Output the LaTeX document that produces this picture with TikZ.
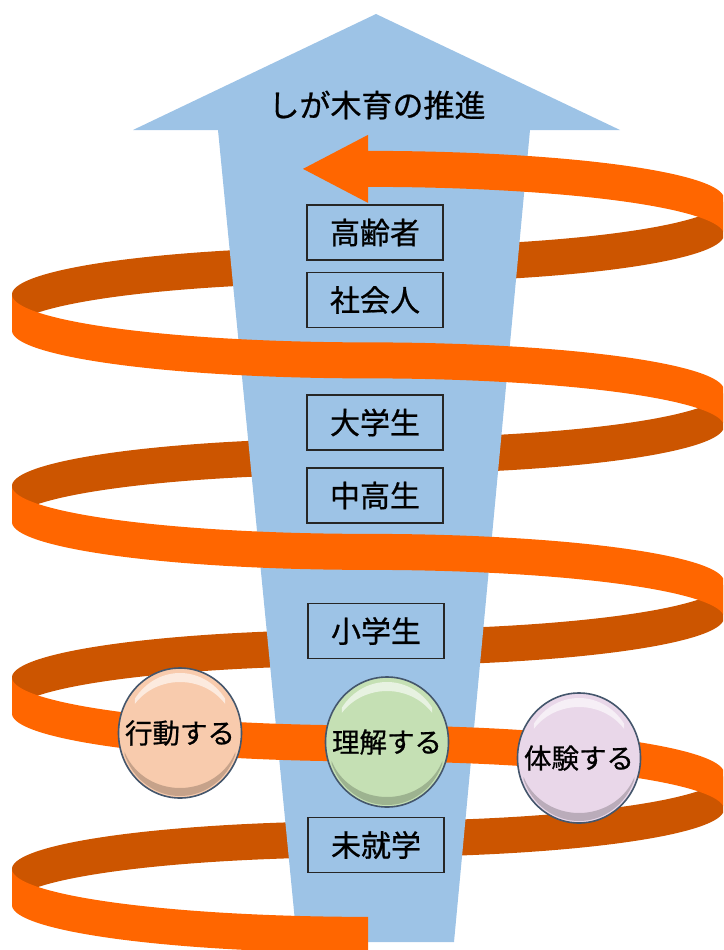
\documentclass[tikz,border=0pt]{standalone}
\usepackage{fontspec}
\newfontfamily\jp[FakeBold=0.7]{Noto Sans CJK JP}
\usetikzlibrary{shapes.geometric}
\definecolor{ribfront}{HTML}{FF6600}
\definecolor{ribback}{HTML}{CC5500}
\definecolor{sky}{HTML}{9DC3E6}
\definecolor{peach}{HTML}{F8CBAD}
\definecolor{mint}{HTML}{C5E0B4}
\definecolor{lilac}{HTML}{E9D7E9}
\definecolor{rim}{HTML}{44566C}
\def\cx{368}\def\ra{356}\def\hh{47.875}\def\hw{18}
\tikzset{
  agebox/.style={draw=black!85, line width=1.3pt, minimum width=136, minimum height=55, inner sep=0, font=\jp\fontsize{30}{30}\selectfont},
  bubble/.style={ellipse, draw=rim, line width=1.6pt, minimum width=123, minimum height=130, inner sep=0, font=\jp\fontsize{27.5}{28}\selectfont},
  titletext/.style={font=\jp\fontsize{31}{31}\selectfont, inner sep=0},
  rib/.style={variable=\t, samples=61},
  ribs/.style={variable=\s, domain=0:90, samples=61},
}
\begin{document}
\begin{tikzpicture}[x=1pt,y=-1pt]
\useasboundingbox (0,0) rectangle (723,950);
\clip (0,0) rectangle (723,950);
% back (inner) parts of the spiral ribbon
\foreach \lv/\rv in {887/791.25,695.5/599.75,504/408.25,312.5/216.75}{
 \fill[ribback]
  plot[rib,domain=180:270] ({\cx+\ra*cos(\t)},{\lv+\hh*sin(\t)-\hw})
  -- plot[ribs] ({\cx+\ra*cos(90-\s)},{\rv+\hh*sin(90-\s)-\hw})
  -- plot[rib,domain=0:90] ({\cx+\ra*cos(\t)},{\rv+\hh*sin(\t)+\hw})
  -- plot[ribs] ({\cx+\ra*cos(270-\s)},{\lv+\hh*sin(270-\s)+\hw})
  -- cycle;
}
% big blue arrow
\fill[sky] (376,14) -- (620,130) -- (530,130) -- (454,942) -- (297,942) -- (218,130) -- (133,130) -- cycle;
% front parts of the ribbon
\fill[ribfront] plot[rib,domain=90:180] ({\cx+\ra*cos(\t)},{887+\hh*sin(\t)-\hw})
  -- plot[ribs] ({\cx+\ra*cos(180-\s)},{887+\hh*sin(180-\s)+\hw}) -- cycle;
\foreach \rv/\lv in {791.25/695.5,599.75/504,408.25/312.5}{
 \fill[ribfront]
  plot[ribs] ({\cx+\ra*cos(-\s)},{\rv+\hh*sin(-\s)-\hw})
  -- plot[rib,domain=90:180] ({\cx+\ra*cos(\t)},{\lv+\hh*sin(\t)-\hw})
  -- plot[ribs] ({\cx+\ra*cos(180-\s)},{\lv+\hh*sin(180-\s)+\hw})
  -- plot[ribs] ({\cx+\ra*cos(\s-90)},{\rv+\hh*sin(\s-90)+\hw})
  -- cycle;
}
% top pass ending in an arrow head
\fill[ribfront] plot[ribs] ({\cx+\ra*cos(-\s)},{216.75+\hh*sin(-\s)-\hw})
  -- (368,134.875) -- (303,168.875) -- (368,202.875)
  -- plot[ribs] ({\cx+\ra*cos(\s-90)},{216.75+\hh*sin(\s-90)+\hw}) -- cycle;
% title and stages
\node[titletext] (title) at (377,105) {しが木育の推進};
\node[agebox] (elder) at (375,232.5) {高齢者};
\node[agebox] (adult) at (375,300) {社会人};
\node[agebox] (univ) at (375,422.5) {大学生};
\node[agebox] (high) at (375,495.5) {中高生};
\node[agebox] (elem) at (376,631) {小学生};
\node[agebox] (pre) at (376,845) {未就学};
% buttons
\node[bubble, fill=peach] (act) at (180,733) {\makebox[0pt]{行動する}};
\node[bubble, fill=mint] (und) at (387,742) {\makebox[0pt]{理解する}};
\node[bubble, fill=lilac] (exp) at (579,758) {\makebox[0pt]{体験する}};
\foreach \px/\py in {180/733,387/742,579/758}{
 \fill[white,opacity=.6] plot[variable=\t,domain=35:145,samples=40] ({\px+55*cos(\t)},{\py-60*sin(\t)})
   -- plot[variable=\s,domain=0:110,samples=40] ({\px+55*cos(145-\s)},{\py-51*sin(145-\s)}) -- cycle;
 \fill[black,opacity=.2] plot[variable=\t,domain=200:340,samples=40] ({\px+59*cos(\t)},{\py-63*sin(\t)})
   -- plot[variable=\s,domain=0:140,samples=40] ({\px+59*cos(340-\s)},{\py-55*sin(340-\s)}) -- cycle;
}
\end{tikzpicture}
\end{document}
